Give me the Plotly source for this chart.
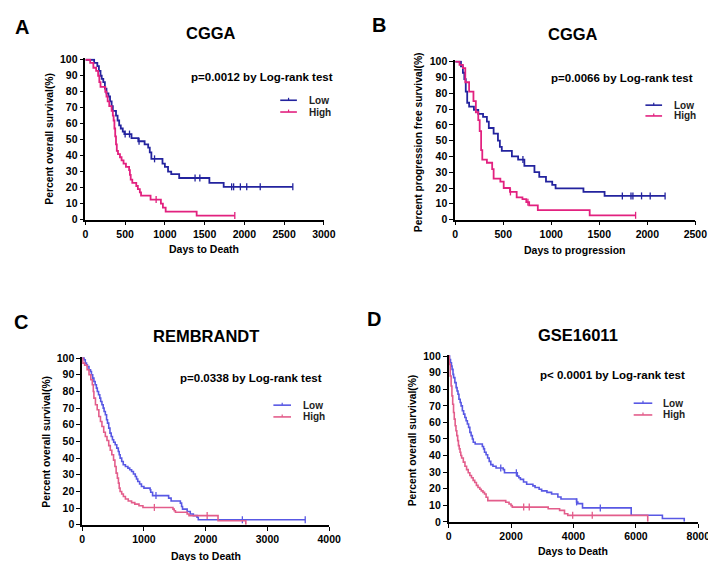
import numpy as np
import plotly.graph_objects as go

W, H = 716, 561
FONT = "Liberation Sans, Arial, sans-serif"

# ---------------- data ----------------
# Panel A: CGGA overall survival
A_low_days = [0, 110, 150, 170, 190, 205, 225, 245, 265, 290, 310, 330, 345, 385, 405, 425, 445, 470, 490,
              580, 665, 745, 790, 810, 830, 970, 1000, 1040, 1080, 1180, 1560, 1740]
A_low_surv = [100, 98, 96, 93, 90, 88, 86, 82, 79, 77, 74, 71, 68, 65, 62, 59, 57, 55, 53.5,
              51, 49, 47, 45, 42, 38, 35, 33, 30, 28.4, 26, 23, 20.5]
A_low_end = 2610
A_low_cens = [500, 555, 675, 870, 1380, 1440, 1840, 1865, 1950, 2030, 2200, 2610]

A_high_days = [0, 60, 100, 135, 160, 175, 190, 250, 265, 280, 300, 330, 345, 355, 365, 375, 385, 395, 410,
               435, 455, 480, 510, 550, 560, 570, 590, 640, 660, 685, 700, 820, 950, 975, 1010, 1400]
A_high_surv = [100, 98, 95, 93, 90, 86, 83, 80, 77, 74, 71, 68, 65, 62, 57, 52, 47, 43, 41,
               39, 37, 35, 33, 31, 28, 25, 23, 21, 19, 17, 15, 12.5, 10, 7.5, 5, 2.5]
A_high_end = 1880
A_high_cens = [890, 1880]

# Panel B: CGGA progression free survival
B_low_days = [0, 60, 80, 95, 110, 125, 145, 195, 240, 290, 330, 350, 400, 445, 465, 485, 590, 655, 720,
              825, 875, 945, 1010, 1045, 1335, 1555]
B_low_surv = [100, 97, 93, 89, 81, 74, 71.5, 69.5, 67, 65, 62, 58, 54.5, 50, 46, 43.5, 40, 38, 34,
              30, 27, 24, 22, 19.7, 17.5, 15]
B_low_end = 2185
B_low_cens = [705, 1740, 1830, 1850, 1940, 2030, 2185]

B_high_days = [0, 45, 80, 105, 145, 190, 215, 240, 255, 270, 282, 330, 385, 400, 470, 505, 570, 640,
               700, 740, 770, 860, 1400]
B_high_surv = [100, 98, 96, 87, 81, 75, 68, 63, 56, 44, 38, 36, 32, 26, 24, 20, 17.5, 14,
               13, 11, 9, 6, 2.7]
B_high_end = 1878
B_high_cens = [575, 757, 1878]

# Panel C: REMBRANDT overall survival
C_low_days = [0, 30, 50, 70, 85, 110, 135, 150, 170, 190, 210, 230, 245, 265, 285, 300, 320, 340, 355,
              375, 395, 410, 430, 450, 470, 490, 510, 535, 560, 585, 600, 615, 640, 665, 700, 740,
              770, 800, 830, 860, 880, 900, 930, 960, 1000, 1100, 1110, 1140, 1400, 1440, 1590,
              1610, 1625, 1700, 1750, 1800, 1860, 1880]
C_low_surv = [100, 99, 97, 96, 95, 93, 92, 90, 88, 86, 84, 82, 80, 78, 76, 74, 72, 70, 68,
              66, 63, 61, 58, 55, 53, 51, 49.5, 48, 46, 44, 42, 40, 38, 36, 35, 34,
              33, 32, 30.5, 29, 27.5, 26, 24.5, 23, 22, 21, 19.5, 17.5, 16, 14.3, 13,
              11, 9.4, 8, 6.5, 5.5, 4.5, 3]
C_low_end = 3612
C_low_cens = [1195, 2594, 3612]

C_high_days = [0, 10, 40, 80, 111, 140, 164, 180, 190, 215, 243, 270, 296, 320, 349, 375, 402, 430,
               455, 480, 508, 530, 550, 570, 587, 600, 614, 640, 667, 700, 746, 800, 852, 920,
               984, 1470, 1490, 1510, 1700, 1730, 2200, 2650]
C_high_surv = [100, 97, 95.7, 93, 90, 87, 84, 80, 76, 72, 69, 65, 62, 59, 55.5, 53, 50.6, 47.5,
               44.7, 42, 38.8, 35, 31, 28, 25, 22, 20, 18.5, 17, 15.5, 14.3, 13.3, 12.4, 11.4,
               10.4, 9.4, 8.4, 7.5, 6.5, 5.5, 2.4, 0]
C_high_end = 2650
C_high_cens = [1169, 2024]

# Panel D: GSE16011 overall survival
D_low_days = [0, 30, 60, 90, 110, 140, 160, 200, 240, 270, 300, 330, 370, 400, 440, 480, 520, 560, 600,
              640, 680, 720, 760, 790, 850, 1080, 1120, 1150, 1200, 1250, 1300, 1350, 1420, 1520,
              1750, 1790, 2200, 2250, 2300, 2400, 2500, 2700, 2770, 2900, 2980, 3150, 3300, 3500,
              3600, 4100, 4140, 4290, 5850, 6850, 7550]
D_low_surv = [100, 98, 96, 94, 92, 89, 87, 84, 81, 79, 77, 74, 72, 70, 67, 65, 63, 61, 59,
              57, 54, 52, 50, 48, 47, 45.5, 44, 42, 40.5, 38.5, 36.5, 34.5, 33.5, 32.5,
              31.5, 29.6, 27.6, 26.6, 25.6, 24, 22.7, 21.7, 20.7, 19.7, 18.7, 17.8, 16.8, 15,
              13.8, 12, 11, 8.4, 4, 2, 0]
D_low_end = 7550
D_low_cens = [1670, 2170, 4100, 4860]

D_high_days = [0, 20, 52, 80, 105, 130, 157, 180, 209, 235, 261, 290, 314, 340, 366, 390, 418, 470, 523,
               575, 628, 680, 732, 785, 837, 890, 941, 1000, 1046, 1100, 1150, 1200, 1255, 1830,
               1935, 2000, 2040, 3190, 3556, 3713, 3817, 6380]
D_high_surv = [100, 95, 88, 82, 76, 71, 66, 62, 58, 55, 52, 49, 46, 44, 42, 40, 38.5, 36, 33.5,
               31.5, 29.6, 28, 26.6, 25, 23.7, 22, 20.7, 19.7, 18.7, 17.8, 16.8, 14.8, 12.8, 11.8,
               10.8, 9.8, 8.9, 7.9, 6.9, 4.9, 3.9, 0]
D_high_end = 6380
D_high_cens = [2405, 2583, 3975, 4602]

# ---------------- layout helpers ----------------
def px(x):
    return x / W

def py(y):
    return 1 - y / H

panels = [
    dict(key="A", x0=76, x1=319.5, ytop=47.7, ybot=210.7, xmax=3000, dtick=500, title="CGGA",
         title_xy=(204, 20), letter_xy=(11, 14), p="p=0.0012 by Log-rank test", p_xy=(256, 65),
         xlabel="Days to Death", xl_xy=(197, 240.5), ylabel="Percent overall survival(%)", yl_xy=(39, 128),
         leg=(275, 292, 89, 101, 302),
         low=(A_low_days, A_low_surv, A_low_end, A_low_cens),
         high=(A_high_days, A_high_surv, A_high_end, A_high_cens),
         clow="#23239e", chigh="#e2217f"),
    dict(key="B", x0=453.7, x1=699, ytop=49.7, ybot=210.7, xmax=2500, dtick=500, title="CGGA",
         title_xy=(574, 21), letter_xy=(376, 12), p="p=0.0066 by Log-rank test", p_xy=(624.5, 66),
         xlabel="Days to progression", xl_xy=(576, 241.5), ylabel="Percent progression free survival(%)",
         yl_xy=(416.5, 132),
         leg=(648, 665, 94, 105, 675),
         low=(B_low_days, B_low_surv, B_low_end, B_low_cens),
         high=(B_high_days, B_high_surv, B_high_end, B_high_cens),
         clow="#23239e", chigh="#e2217f"),
    dict(key="C", x0=72.7, x1=325, ytop=352, ybot=522, xmax=4000, dtick=1000, title="REMBRANDT",
         title_xy=(199.5, 329.5), letter_xy=(10, 315), p="p=0.0338 by Log-rank test", p_xy=(245.5, 372),
         xlabel="Days to Death", xl_xy=(199, 553.5), ylabel="Percent overall survival(%)", yl_xy=(36.5, 437.5),
         leg=(268, 286, 400, 412, 296),
         low=(C_low_days, C_low_surv, C_low_end, C_low_cens),
         high=(C_high_days, C_high_surv, C_high_end, C_high_cens),
         clow="#5858e4", chigh="#e35d8b"),
    dict(key="D", x0=447, x1=702, ytop=350, ybot=519, xmax=8000, dtick=2000, title="GSE16011",
         title_xy=(579.5, 328), letter_xy=(371, 312.5), p="p< 0.0001 by Log-rank test", p_xy=(614.5, 369.5),
         xlabel="Days to Death", xl_xy=(574.5, 549), ylabel="Percent overall survival(%)", yl_xy=(410.5, 436),
         leg=(636, 655, 398, 410, 664),
         low=(D_low_days, D_low_surv, D_low_end, D_low_cens),
         high=(D_high_days, D_high_surv, D_high_end, D_high_cens),
         clow="#5858e4", chigh="#e35d8b"),
]

fig = go.Figure()
annotations = []
shapes = []
YTOP = 100.8

def bold(size, color="black"):
    return dict(family=FONT, size=size, color=color, weight="bold")

for i, p in enumerate(panels):
    n = "" if i == 0 else str(i + 1)
    xa, ya = "x" + n, "y" + n
    unit = (p["ybot"] - p["ytop"]) / 100.0
    ytop_px = p["ybot"] - unit * YTOP
    lw = 1.8 if p["key"] in ("A", "B") else 1.6
    fig.layout["xaxis" + n] = dict(
        domain=[px(p["x0"]), px(p["x1"])], range=[0, p["xmax"]], anchor=ya,
        tickmode="linear", tick0=0, dtick=p["dtick"], showgrid=False, zeroline=False,
        showline=True, linecolor="black", linewidth=1.6, ticks="outside", ticklen=4,
        tickwidth=1.4, tickcolor="black", tickfont=bold(10.5), fixedrange=True)
    fig.layout["yaxis" + n] = dict(
        domain=[py(p["ybot"]), py(ytop_px)], range=[0, YTOP], anchor=xa,
        tickmode="array", tickvals=list(range(0, 101, 10)), showgrid=False, zeroline=False,
        showline=True, linecolor="black", linewidth=1.6, ticks="outside", ticklen=4,
        tickwidth=1.4, tickcolor="black", tickfont=bold(10.5), fixedrange=True)

    for grp, name, col in (("low", "Low", p["clow"]), ("high", "High", p["chigh"])):
        days, surv, end, cens = p[grp]
        xs = list(days) + [end]
        ys = list(surv) + [surv[-1]]
        fig.add_trace(go.Scatter(x=xs, y=ys, mode="lines", line=dict(color=col, width=lw, shape="hv"),
                                 name=name, showlegend=False, xaxis=xa, yaxis=ya, hoverinfo="skip"))
        d = np.asarray(days, dtype=float)
        s = np.asarray(surv, dtype=float)
        cy = [s[np.searchsorted(d, t, side="right") - 1] for t in cens]
        fig.add_trace(go.Scatter(x=cens, y=cy, mode="markers", name=name + " censored", showlegend=False,
                                 marker=dict(symbol="line-ns", size=5, line=dict(width=1.3, color=col)),
                                 xaxis=xa, yaxis=ya, hoverinfo="skip", cliponaxis=False))

    annotations.append(dict(x=px(p["title_xy"][0]), y=py(p["title_xy"][1]), xref="paper", yref="paper",
                            text=p["title"], showarrow=False, font=bold(16.5), xanchor="center", yanchor="middle"))
    annotations.append(dict(x=px(p["letter_xy"][0]), y=py(p["letter_xy"][1]), xref="paper", yref="paper",
                            text=p["key"], showarrow=False, font=bold(20), xanchor="center", yanchor="middle"))
    annotations.append(dict(x=px(p["p_xy"][0]), y=py(p["p_xy"][1]), xref="paper", yref="paper",
                            text=p["p"], showarrow=False, font=bold(11.5), xanchor="center", yanchor="middle"))
    annotations.append(dict(x=px(p["xl_xy"][0]), y=py(p["xl_xy"][1]), xref="paper", yref="paper",
                            text=p["xlabel"], showarrow=False, font=bold(10.5), xanchor="center", yanchor="middle"))
    annotations.append(dict(x=px(p["yl_xy"][0]), y=py(p["yl_xy"][1]), xref="paper", yref="paper",
                            text=p["ylabel"], showarrow=False, font=bold(10.3), textangle=-90,
                            xanchor="center", yanchor="middle"))
    lx0, lx1, ly_low, ly_high, ltx = p["leg"]
    for ly, name, col in ((ly_low, "Low", p["clow"]), (ly_high, "High", p["chigh"])):
        shapes.append(dict(type="line", xref="paper", yref="paper", x0=px(lx0), x1=px(lx1), y0=py(ly), y1=py(ly),
                           line=dict(color=col, width=1.6)))
        mx = (lx0 + lx1) / 2
        shapes.append(dict(type="line", xref="paper", yref="paper", x0=px(mx), x1=px(mx), y0=py(ly - 2.5),
                           y1=py(ly), line=dict(color=col, width=1.2)))
        annotations.append(dict(x=px(ltx), y=py(ly), xref="paper", yref="paper", text=name, showarrow=False,
                                font=bold(10, "#222222"), xanchor="left", yanchor="middle"))

fig.update_layout(width=W, height=H, margin=dict(l=0, r=0, t=0, b=0), paper_bgcolor="white",
                  plot_bgcolor="white", showlegend=False, annotations=annotations, shapes=shapes)

fig.write_html("out.html")
